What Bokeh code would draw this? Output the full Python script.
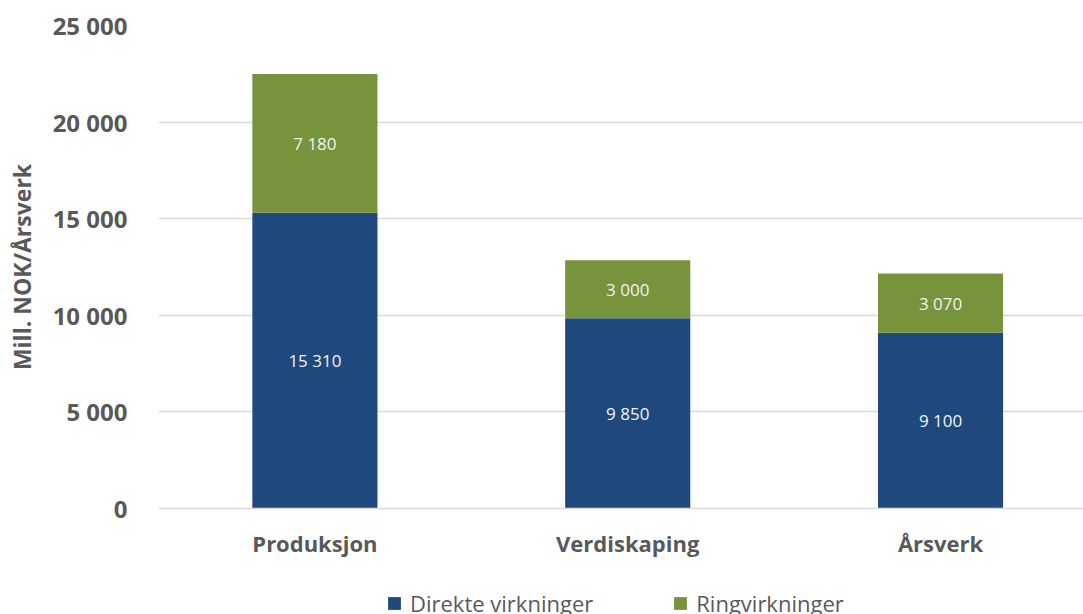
from bokeh.plotting import figure
from bokeh.layouts import column
from bokeh.models import (ColumnDataSource, Range1d, FixedTicker, LabelSet, Legend, LegendItem)
from bokeh.core.properties import value
from bokeh.embed import file_html
from bokeh.resources import INLINE

categories = ["Produksjon", "Verdiskaping", "Årsverk"]
direkte = [15310, 9850, 9100]
ring = [7180, 3000, 3070]
series_names = ["Direkte virkninger", "Ringvirkninger"]
y_ticks = [0, 5000, 10000, 15000, 20000, 25000]

BLUE = "#1F497D"
GREEN = "#77933C"
GREY = "#595959"
FONT = "Open Sans"

def fmt(v):
    return f"{v:,}".replace(",", " ")

x = list(range(len(categories)))
total = [d + r for d, r in zip(direkte, ring)]
src = ColumnDataSource(dict(
    x=x, direkte=direkte, ring=ring, total=total,
    mid_d=[d / 2 for d in direkte],
    mid_r=[d + r / 2 for d, r in zip(direkte, ring)],
    lab_d=[fmt(v) for v in direkte],
    lab_r=[fmt(v) for v in ring],
))

p = figure(width=1083, height=560, output_backend="svg", toolbar_location=None,
           x_range=Range1d(-0.5, 2.457), y_range=Range1d(0, 25000),
           min_border_left=158, min_border_right=0, min_border_top=25, min_border_bottom=51)
p.outline_line_color = None

p.vbar(x="x", bottom=0, top="direkte", width=0.4, source=src, fill_color=BLUE, line_color=None)
p.vbar(x="x", bottom="direkte", top="total", width=0.4, source=src, fill_color=GREEN, line_color=None)

for yf, tf in (("mid_d", "lab_d"), ("mid_r", "lab_r")):
    p.add_layout(LabelSet(x="x", y=yf, text=tf, source=src, text_align="center",
                          text_baseline="middle", text_color="#F2F2F2", text_font=value(FONT),
                          text_font_size="17px"))

# axes
p.yaxis.ticker = FixedTicker(ticks=y_ticks)
p.yaxis.major_label_overrides = {t: fmt(t) for t in y_ticks}
p.yaxis.axis_line_color = None
p.yaxis.major_tick_line_color = None
p.yaxis.minor_tick_line_color = None
p.yaxis.major_label_standoff = 25
p.yaxis.major_label_text_font = FONT
p.yaxis.major_label_text_font_style = "bold"
p.yaxis.major_label_text_font_size = "24px"
p.yaxis.major_label_text_color = GREY
p.yaxis.axis_label = "Mill. NOK/Årsverk"
p.yaxis.axis_label_text_font = FONT
p.yaxis.axis_label_text_font_style = "bold"
p.yaxis.axis_label_text_font_size = "23px"
p.yaxis.axis_label_text_color = GREY
p.yaxis.axis_label_standoff = 12

p.xaxis.ticker = FixedTicker(ticks=x)
p.xaxis.major_label_overrides = {i: c for i, c in zip(x, categories)}
p.xaxis.axis_line_color = "#D9D9D9"
p.xaxis.axis_line_width = 1.5
p.xaxis.major_tick_line_color = None
p.xaxis.minor_tick_line_color = None
p.xaxis.major_label_standoff = 13
p.xaxis.major_label_text_font = FONT
p.xaxis.major_label_text_font_style = "bold"
p.xaxis.major_label_text_font_size = "22px"
p.xaxis.major_label_text_color = GREY

p.xgrid.grid_line_color = None
p.ygrid.grid_line_color = "#D9D9D9"
p.ygrid.grid_line_width = 1.5

# legend strip below the chart (its bars lie outside the strip's visible range)
pl = figure(width=1083, height=80, output_backend="svg", toolbar_location=None,
            x_range=Range1d(-0.5, 2.457), y_range=Range1d(1e6, 1e6 + 1),
            min_border_left=0, min_border_right=0, min_border_top=0, min_border_bottom=0)
pl.outline_line_color = None
pl.axis.visible = False
pl.grid.grid_line_color = None
l1 = pl.vbar(x="x", bottom=0, top="direkte", width=0.4, source=src, fill_color=BLUE, line_color=None)
l2 = pl.vbar(x="x", bottom="direkte", top="total", width=0.4, source=src, fill_color=GREEN, line_color=None)

legend = Legend(items=[LegendItem(label=series_names[0], renderers=[l1]),
                       LegendItem(label=series_names[1], renderers=[l2])],
                orientation="horizontal", location=(228, 22),
                label_text_font=FONT, label_text_font_size="22px", label_text_color=GREY,
                glyph_width=16, glyph_height=16, spacing=79, label_standoff=8,
                border_line_color=None, background_fill_alpha=0, margin=0, padding=4)
pl.add_layout(legend, "center")

open("out.html", "w").write(file_html(column(p, pl, spacing=0), INLINE))
